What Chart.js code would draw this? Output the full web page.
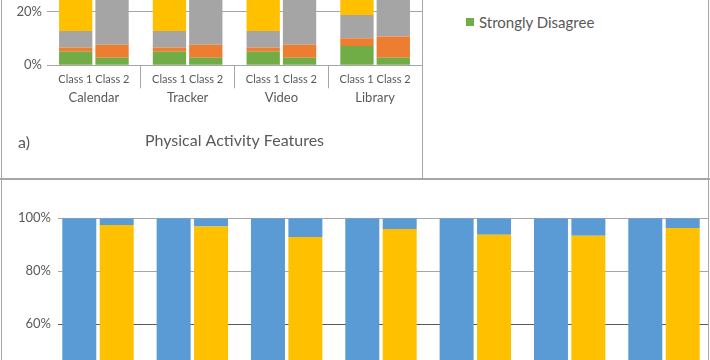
<!DOCTYPE html>
<html><head><meta charset="utf-8">
<script src="https://cdn.jsdelivr.net/npm/chart.js@4.4.1/dist/chart.umd.min.js"></script>
<style>
html,body{margin:0;padding:0;background:#fff;}
#root{position:relative;width:710px;height:360px;overflow:hidden;background:#fff;font-family:Lato,'Open Sans',sans-serif;color:#595959;}
#topCanvas{position:absolute;left:0;top:-260px;}
#botCanvas{position:absolute;left:0;top:178px;}
.ln{position:absolute;background:#a6a6a6;}
#legend{position:absolute;left:466px;bottom:329px;}
.li{display:flex;align-items:center;height:18px;margin-top:14px;font-size:15px;line-height:18px;white-space:nowrap;}
.sw{width:8px;height:8px;margin-right:5px;flex:none;}
#tag{position:absolute;left:18px;top:133px;font-size:16px;line-height:18px;}
</style></head>
<body>
<div id="root">
  <canvas id="topCanvas" width="424" height="438"></canvas>
  <canvas id="botCanvas" width="710" height="320"></canvas>
  <div class="ln" style="left:1px;top:0;width:1px;height:360px;"></div>
  <div class="ln" style="left:422px;top:0;width:1px;height:179px;"></div>
  <div class="ln" style="left:0;top:178px;width:710px;height:2px;"></div>
  <div class="ln" style="left:708px;top:0;width:1px;height:360px;"></div>
  <div id="legend"></div>
  <div id="tag">a)</div>
</div>
<script>
// ---------- data: panel a) ----------
const features = ['Calendar', 'Tracker', 'Video', 'Library'];
const classNames = ['Class 1', 'Class 2'];
const levels = ['Strongly Disagree', 'Disagree', 'Neutral', 'Agree', 'Strongly Agree'];
const levelColors = ['#70AD47', '#ED7D31', '#A5A5A5', '#FFC000', '#5B9BD5'];
const axisTitleA = 'Physical Activity Features';
const tickLabelsA = [0, 20, 40, 60, 80, 100];

// percentages, per feature (Calendar, Tracker, Video, Library)
const class1StronglyDisagree = [5.1, 5.1, 5.1, 7.2];
const class1Disagree         = [1.5, 1.5, 1.5, 2.9];
const class1Neutral          = [6.2, 6.2, 6.2, 8.7];
const class1Agree            = [35.0, 33.0, 32.0, 30.0];
const class1StronglyAgree    = [52.2, 54.2, 55.2, 51.2];

const class2StronglyDisagree = [2.8, 2.8, 2.8, 2.8];
const class2Disagree         = [4.9, 4.9, 4.9, 7.9];
const class2Neutral          = [38.0, 35.0, 40.0, 42.0];
const class2Agree            = [36.0, 38.0, 34.0, 30.0];
const class2StronglyAgree    = [18.3, 19.3, 18.3, 17.3];

// ---------- data: lower panel ----------
const lowerGroups = ['Feature 1', 'Feature 2', 'Feature 3', 'Feature 4', 'Feature 5', 'Feature 6', 'Feature 7'];
const lowerClass1Blue   = [100, 100, 100, 100, 100, 100, 100];
const lowerClass2Yellow = [97.5, 96.9, 92.9, 96.0, 93.8, 93.4, 96.3];
const lowerClass2Blue   = [2.5, 3.1, 7.1, 4.0, 6.2, 6.6, 3.7];
const tickLabelsB = [0, 20, 40, 60, 80, 100];

const FONT = 'Lato';
const TXT = '#595959';
const GRID = '#a6a6a6';

// ---------- top chart ----------
const c1Sets = [class1StronglyDisagree, class1Disagree, class1Neutral, class1Agree, class1StronglyAgree];
const c2Sets = [class2StronglyDisagree, class2Disagree, class2Neutral, class2Agree, class2StronglyAgree];
const topDatasets = [];
[c1Sets, c2Sets].forEach((sets, ci) => {
  sets.forEach((arr, li) => {
    topDatasets.push({
      label: levels[li], data: arr, backgroundColor: levelColors[li],
      stack: classNames[ci], borderWidth: 0,
      categoryPercentage: 0.775, barPercentage: 0.917
    });
  });
});

const topChart = new Chart(document.getElementById('topCanvas'), {
  type: 'bar',
  data: { labels: features, datasets: topDatasets },
  options: {
    responsive: false, animation: false,
    layout: { padding: { top: 57.3, bottom: 27.7, left: 0, right: 2 } },
    plugins: { legend: { display: false }, tooltip: { enabled: false } },
    scales: {
      x: {
        type: 'category', stacked: true, offset: true,
        grid: { display: true, offset: true, drawOnChartArea: false, drawTicks: true, tickLength: 23,
                color: (ctx) => ctx.index === 0 ? 'rgba(0,0,0,0)' : GRID, lineWidth: 1 },
        border: { display: true, color: GRID, width: 1 },
        ticks: { font: { family: FONT, size: 11 }, color: TXT, padding: -15.6, maxRotation: 0, autoSkip: false,
                 callback: () => classNames.join(' ') },
        afterFit: (s) => { s.height = 23; }
      },
      xg: {
        type: 'category', position: 'bottom', weight: 1, labels: features, offset: true,
        grid: { display: false, drawTicks: false }, border: { display: false },
        ticks: { font: { family: FONT, size: 13 }, color: TXT, padding: 2, maxRotation: 0, autoSkip: false },
        title: { display: true, text: axisTitleA, font: { family: FONT, size: 16 }, color: TXT, padding: 0 },
        afterFit: (s) => { s.height = 62; }
      },
      y: {
        stacked: true, min: 0, max: 100,
        afterBuildTicks: (s) => { s.ticks = tickLabelsA.map(v => ({ value: v })); },
        ticks: { callback: (v) => v + '%', padding: 5, font: { family: FONT, size: 13 }, color: TXT },
        grid: { color: GRID, drawTicks: false, lineWidth: 1 },
        border: { display: false },
        afterFit: (s) => { s.width = 47; }
      }
    }
  }
});

// HTML legend from datasets (reverse order, like Excel stacked legend)
const legendEl = document.getElementById('legend');
levels.slice().reverse().forEach((lab) => {
  const i = levels.indexOf(lab);
  const d = document.createElement('div');
  d.className = 'li';
  d.innerHTML = '<span class="sw" style="background:' + levelColors[i] + '"></span><span>' + lab + '</span>';
  legendEl.appendChild(d);
});

// ---------- bottom chart ----------
const toPts = (arr) => arr.map((v, i) => ({ x: i, y: v }));
const botChart = new Chart(document.getElementById('botCanvas'), {
  type: 'bar',
  data: {
    datasets: [
      { label: 'Class 1', data: toPts(lowerClass1Blue), backgroundColor: '#5B9BD5', stack: 'Class 1' },
      { label: 'Class 2 (yellow)', data: toPts(lowerClass2Yellow), backgroundColor: '#FFC000', stack: 'Class 2' },
      { label: 'Class 2 (blue)', data: toPts(lowerClass2Blue), backgroundColor: '#5B9BD5', stack: 'Class 2' }
    ]
  },
  options: {
    responsive: false, animation: false,
    datasets: { bar: { categoryPercentage: 0.793, barPercentage: 0.909, borderWidth: 0 } },
    layout: { padding: { top: 40.3, bottom: 12.5, left: 0, right: 1 } },
    plugins: { legend: { display: false }, tooltip: { enabled: false } },
    scales: {
      x: {
        type: 'linear', stacked: true, display: false, offset: false, grid: { offset: false },
        min: -0.424, max: lowerGroups.length - 0.523,
        afterBuildTicks: (s) => { s.ticks = lowerGroups.map((g, i) => ({ value: i })); }
      },
      y: {
        stacked: true, min: 0, max: 100,
        afterBuildTicks: (s) => { s.ticks = tickLabelsB.map(v => ({ value: v })); },
        ticks: { callback: (v) => v + '%', padding: 7, font: { family: FONT, size: 13 }, color: TXT },
        grid: { color: (ctx) => (ctx.tick && ctx.tick.value === 60) ? '#595959' : GRID, drawTicks: false, lineWidth: 1 },
        border: { display: false },
        afterFit: (s) => { s.width = 58; }
      }
    }
  }
});
</script>
</body></html>
